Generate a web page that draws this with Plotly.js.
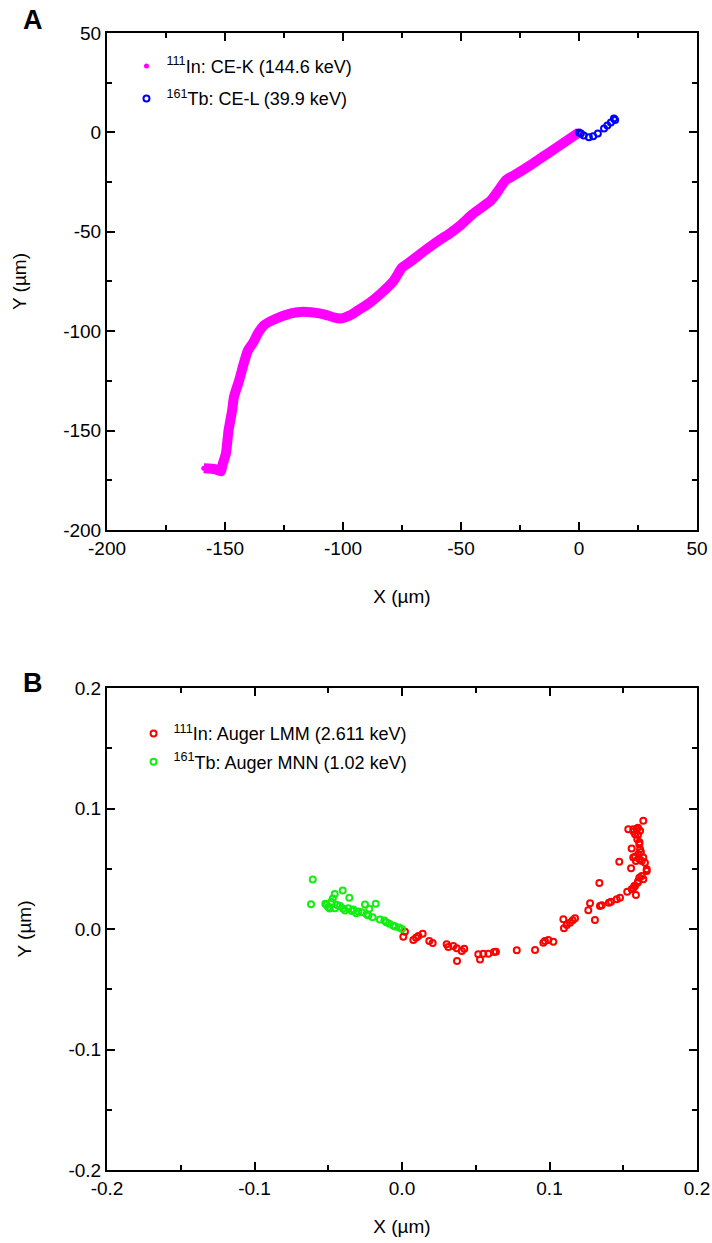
<!DOCTYPE html>
<html>
<head>
<meta charset="utf-8">
<script src="https://cdn.plot.ly/plotly-3.0.1.min.js"></script>
<style>html,body{margin:0;padding:0;background:#fff;}#chart{width:712px;height:1243px;}</style>
</head>
<body>
<div id="chart"></div>
<script>
// Panel A: 111In CE-K track (µm)
var inCEK_x = [0,-5,-10,-15,-20,-27.5,-31,-34,-37.3,-45,-50,-55,-59.3,-66,-72,-75,-78.4,-83.9,-89,-93.6,-97,-100.8,-104,-108,-113.6,-118,-122,-128,-133.5,-136,-138,-140.3,-142,-144,-146.2,-147,-148.5,-149.6,-151,-151.7,-154,-159];
var inCEK_y = [0,-4,-8,-12,-16,-21.6,-24,-29,-34.2,-41,-46.5,-51,-54.3,-60,-65.5,-68,-74.4,-81,-86,-89.5,-92,-93.6,-93,-91.5,-90.5,-90.3,-91,-93.5,-97,-101,-105.6,-109.7,-116,-124.7,-133,-140,-150,-161.5,-167,-170.5,-169.5,-169];
// Panel A: 161Tb CE-L track (µm)
var tbCEL_x = [0,0.8,2,4.2,6,8,10.6,12,13.5,14.8,15.3];
var tbCEL_y = [0,-0.5,-1.5,-2.5,-2,-0.5,2,3.5,5,7,6.2];

// Panel B: 111In Auger LMM (µm)
var inLMM_x = [0.0020,0.0009,0.0077,0.0095,0.0111,0.0140,0.0185,0.0208,0.0303,0.0314,0.0348,0.0371,0.0405,0.0422,0.0373,0.0517,0.0529,0.0551,0.0585,0.0624,0.0637,0.0778,0.0902,0.0958,0.0969,0.0992,0.1026,0.1098,0.1117,0.1139,0.1157,0.1173,0.1094,0.1308,0.1263,0.1275,0.1342,0.1354,0.1403,0.1417,0.1456,0.1478,0.1338,0.1527,0.1568,0.1586,0.1575,0.1598,0.1609,0.1636,0.1625,0.1659,0.1647,0.1659,0.1625,0.1586,0.1553,0.1473,0.1636,0.1568,0.1602,0.1614,0.1557,0.1609,0.1595,0.1580,0.1614,0.1591,0.1568,0.1534,0.1636,0.1602,0.1580,0.1557,0.1600,0.1610,0.1620,0.1580,0.1610,0.1570,0.1600];
var inLMM_y = [-0.0022,-0.0064,-0.0091,-0.0072,-0.0058,-0.0039,-0.0100,-0.0116,-0.0127,-0.0150,-0.0141,-0.0160,-0.0183,-0.0164,-0.0266,-0.0210,-0.0252,-0.0205,-0.0205,-0.0191,-0.0189,-0.0177,-0.0175,-0.0114,-0.0100,-0.0091,-0.0106,0.0006,0.0033,0.0052,0.0072,0.0089,0.0081,0.0075,0.0155,0.0214,0.0191,0.0197,0.0219,0.0227,0.0247,0.0260,0.0381,0.0310,0.0338,0.0283,0.0357,0.0385,0.0426,0.0413,0.0441,0.0482,0.0551,0.0496,0.0565,0.0565,0.0505,0.0559,0.0593,0.0593,0.0621,0.0663,0.0668,0.0704,0.0746,0.0787,0.0815,0.0829,0.0829,0.0829,0.0898,0.0399,0.0357,0.0330,0.0780,0.0720,0.0640,0.0600,0.0580,0.0810,0.0840];
// Panel B: 161Tb Auger MNN (µm)
var tbMNN_x = [-0.0605,-0.0617,-0.0402,-0.0357,-0.0456,-0.0469,-0.0479,-0.0511,-0.0500,-0.0454,-0.0420,-0.0386,-0.0364,-0.0330,-0.0296,-0.0273,-0.0251,-0.0222,-0.0178,-0.0228,-0.0199,-0.0107,-0.0086,-0.0047,-0.0020,-0.0520,-0.0490,-0.0440,-0.0400,-0.0340,-0.0310,-0.0240,-0.0150,-0.0120,-0.0060,0.0000];
var tbMNN_y = [0.0411,0.0206,0.0320,0.0259,0.0291,0.0253,0.0226,0.0199,0.0181,0.0173,0.0190,0.0154,0.0173,0.0162,0.0145,0.0140,0.0204,0.0168,0.0210,0.0112,0.0098,0.0056,0.0043,0.0021,0.0012,0.0210,0.0170,0.0200,0.0170,0.0150,0.0130,0.0120,0.0080,0.0070,0.0030,0.0000];

var xTicksA = [-200,-150,-100,-50,0,50];
var yTicksA = [-200,-150,-100,-50,0,50];
var xTicksB = [-0.2,-0.1,0.0,0.1,0.2];
var xTickTextB = ['-0.2','-0.1','0.0','0.1','0.2'];
var yTicksB = [-0.2,-0.1,0.0,0.1,0.2];
var yTickTextB = ['-0.2','-0.1','0.0','0.1','0.2'];

var FONT = 'Liberation Sans Narrow, Arial Narrow, Liberation Sans, Arial, sans-serif';

function openMarker(color, size) {
  return {symbol:'circle-open', size:size, color:color, line:{color:color, width:2}};
}

var traces = [
  {x:inCEK_x, y:inCEK_y, xaxis:'x', yaxis:'y', mode:'lines', line:{color:'#ff00ff', width:10, shape:'spline', smoothing:0.5}, showlegend:false, hoverinfo:'skip'},
  {x:inCEK_x, y:inCEK_y, xaxis:'x', yaxis:'y', mode:'markers', name:'<sup>111</sup>In: CE-K (144.6 keV)', marker:{symbol:'circle', size:5, color:'#ff00ff'}, legend:'legend', legendgroup:'a1'},
  {x:tbCEL_x, y:tbCEL_y, xaxis:'x', yaxis:'y', mode:'markers', name:'<sup>161</sup>Tb: CE-L (39.9 keV)', marker:openMarker('#0000ff',6), legend:'legend', legendgroup:'a2'},
  {x:inLMM_x, y:inLMM_y, xaxis:'x2', yaxis:'y2', mode:'markers', name:'<sup>111</sup>In: Auger LMM (2.611 keV)', marker:openMarker('#ff0000',6), legend:'legend2', legendgroup:'b1'},
  {x:tbMNN_x, y:tbMNN_y, xaxis:'x2', yaxis:'y2', mode:'markers', name:'<sup>161</sup>Tb: Auger MNN (1.02 keV)', marker:openMarker('#11ee11',6), legend:'legend2', legendgroup:'b2'}
];

function axis(common) {
  var base = {
    showgrid:false, zeroline:false, showline:true, linecolor:'#000', linewidth:2,
    mirror:'ticks', ticks:'inside', ticklen:8, tickwidth:2, tickcolor:'#000',
    tickfont:{family:FONT, size:19, color:'#000'}, automargin:false, fixedrange:true
  };
  for (var k in common) base[k] = common[k];
  return base;
}

var layout = {
  width:712, height:1243,
  margin:{l:107, r:15, t:33, b:73},
  paper_bgcolor:'#fff', plot_bgcolor:'#fff',
  font:{family:FONT, color:'#000'},
  xaxis: axis({domain:[0,1], range:[-200,50], tickmode:'array', tickvals:xTicksA, ticktext:xTicksA.map(String),
    minor:{dtick:25, tick0:0, ticks:'inside', ticklen:5, tickwidth:2, tickcolor:'#000', showgrid:false},
    title:{text:'X (µm)', font:{family:FONT, size:19}, standoff:32}, anchor:'y'}),
  yaxis: axis({domain:[0.5629,1], range:[-200,50], tickmode:'array', tickvals:yTicksA, ticktext:yTicksA.map(String),
    minor:{dtick:25, tick0:0, ticks:'inside', ticklen:5, tickwidth:2, tickcolor:'#000', showgrid:false},
    title:{text:'Y (µm)', font:{family:FONT, size:19}, standoff:32}, anchor:'x'}),
  xaxis2: axis({domain:[0,1], range:[-0.2,0.2], tickmode:'array', tickvals:xTicksB, ticktext:xTickTextB,
    minor:{dtick:0.05, tick0:0, ticks:'inside', ticklen:5, tickwidth:2, tickcolor:'#000', showgrid:false},
    title:{text:'X (µm)', font:{family:FONT, size:19}, standoff:22}, anchor:'y2'}),
  yaxis2: axis({domain:[0,0.4239], range:[-0.2,0.2], tickmode:'array', tickvals:yTicksB, ticktext:yTickTextB,
    minor:{dtick:0.05, tick0:0, ticks:'inside', ticklen:5, tickwidth:2, tickcolor:'#000', showgrid:false},
    title:{text:'Y (µm)', font:{family:FONT, size:19}, standoff:32}, anchor:'x2'}),
  legend:{x:0.033, y:0.987, xanchor:'left', yanchor:'top', bgcolor:'rgba(0,0,0,0)', borderwidth:0,
    font:{family:FONT, size:18, color:'#000'}, tracegroupgap:6, itemwidth:30},
  legend2:{x:0.045, y:0.40, xanchor:'left', yanchor:'top', bgcolor:'rgba(0,0,0,0)', borderwidth:0,
    font:{family:FONT, size:18, color:'#000'}, tracegroupgap:2, itemwidth:30},
  annotations:[
    {text:'<b>A</b>', xref:'paper', yref:'paper', x:-0.145, y:1.0114, xanchor:'left', yanchor:'middle', showarrow:false, font:{family:'Liberation Sans, Arial, sans-serif', size:27, color:'#000'}},
    {text:'<b>B</b>', xref:'paper', yref:'paper', x:-0.145, y:0.4283, xanchor:'left', yanchor:'middle', showarrow:false, font:{family:'Liberation Sans, Arial, sans-serif', size:27, color:'#000'}}
  ],
  showlegend:true
};

Plotly.newPlot('chart', traces, layout, {staticPlot:true, displayModeBar:false});
</script>
</body>
</html>
